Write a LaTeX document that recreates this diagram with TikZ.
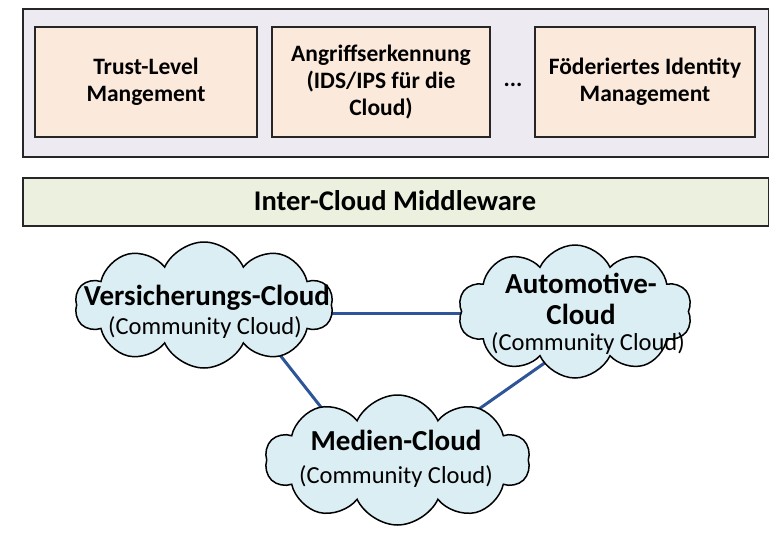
\documentclass[tikz,border=0pt]{standalone}
\usepackage{fontspec}
\setmainfont{Carlito}
\usetikzlibrary{shapes.symbols,calc}
\definecolor{outerfill}{HTML}{EDEBF1}
\definecolor{boxfill}{HTML}{FBE9DB}
\definecolor{mwfill}{HTML}{EBF1DE}
\definecolor{cloudfill}{HTML}{DBEEF4}
\definecolor{linkblue}{HTML}{2E5597}
\definecolor{edge}{HTML}{262626}
\tikzset{
  panel/.style={draw=edge, line width=2pt, fill=outerfill},
  modbox/.style={draw=edge, line width=1.3pt, fill=boxfill, align=center,
    font=\fontsize{23.5}{27}\selectfont\bfseries, inner sep=0pt},
  mwbox/.style={draw=edge, line width=2pt, fill=mwfill, inner sep=0pt},
  cloudshape/.style={cloud, cloud puffs=10, cloud puff arc=130, cloud ignores aspect,
    draw=black, line width=1.5pt, fill=cloudfill, inner sep=0pt},
  ctitle/.style={font=\fontsize{29}{31}\selectfont\bfseries, align=center, inner sep=0pt},
  csub/.style={font=\fontsize{24.5}{26}\selectfont, inner sep=0pt},
  link/.style={draw=linkblue, line width=3pt}
}
\begin{document}
\begin{tikzpicture}[x=1pt, y=-1pt]
\useasboundingbox (0,0) rectangle (769,533);

% security services panel
\node[panel, minimum width=746pt, minimum height=148pt, anchor=north west] (panel) at (22,8) {};
\node[modbox, minimum width=222pt, minimum height=110pt] (trust) at (146,82) {Trust-Level\\Mangement};
\node[modbox, minimum width=218pt, minimum height=110pt] (ids) at (381,82) {Angriffserkennung\\(IDS/IPS für die\\Cloud)};
\node[font=\fontsize{23.5}{27}\selectfont\bfseries, inner sep=0pt] (dots) at (513,85) {...};
\node[modbox, minimum width=220pt, minimum height=110pt] (fim) at (645,82) {Föderiertes Identity\\Management};

% middleware bar
\node[mwbox, minimum width=746pt, minimum height=48pt, anchor=north west] (mw) at (22,177) {};
\node[font=\fontsize{28.5}{32}\selectfont\bfseries, inner sep=0pt] (mwlabel) at (395,201) {Inter-Cloud Middleware};

% cloud positions
\coordinate (vc) at (204,305);
\coordinate (ac) at (575,311.5);
\coordinate (mc) at (397.5,460);

% links, drawn first so the clouds cover their ends
\draw[link] ($(vc)+(100,8)$) -- ($(ac)+(-90,1.5)$);
\draw[link] ($(vc)+(72,45)$) -- ($(mc)+(-58.5,-30)$);
\draw[link] ($(ac)+(-19,43.5)$) -- ($(mc)+(51.5,-30)$);

% community clouds
\node[cloudshape, minimum width=258pt, minimum height=126pt] (vers) at (vc) {};
\node[cloudshape, minimum width=234pt, minimum height=133pt] (auto) at (ac) {};
\node[cloudshape, minimum width=265pt, minimum height=130pt] (med) at (mc) {};

\node[ctitle] (verst) at (207,298) {Versicherungs-Cloud};
\node[csub] (verss) at (205,328) {(Community Cloud)};
\node[ctitle] (autot) at (581,283) {Automotive-};
\node[ctitle] (autot2) at (581,314) {Cloud};
\node[csub] (autos) at (588,344) {(Community Cloud)};
\node[ctitle] (medt) at (396,440) {Medien-Cloud};
\node[csub] (meds) at (396,477) {(Community Cloud)};
\end{tikzpicture}
\end{document}
